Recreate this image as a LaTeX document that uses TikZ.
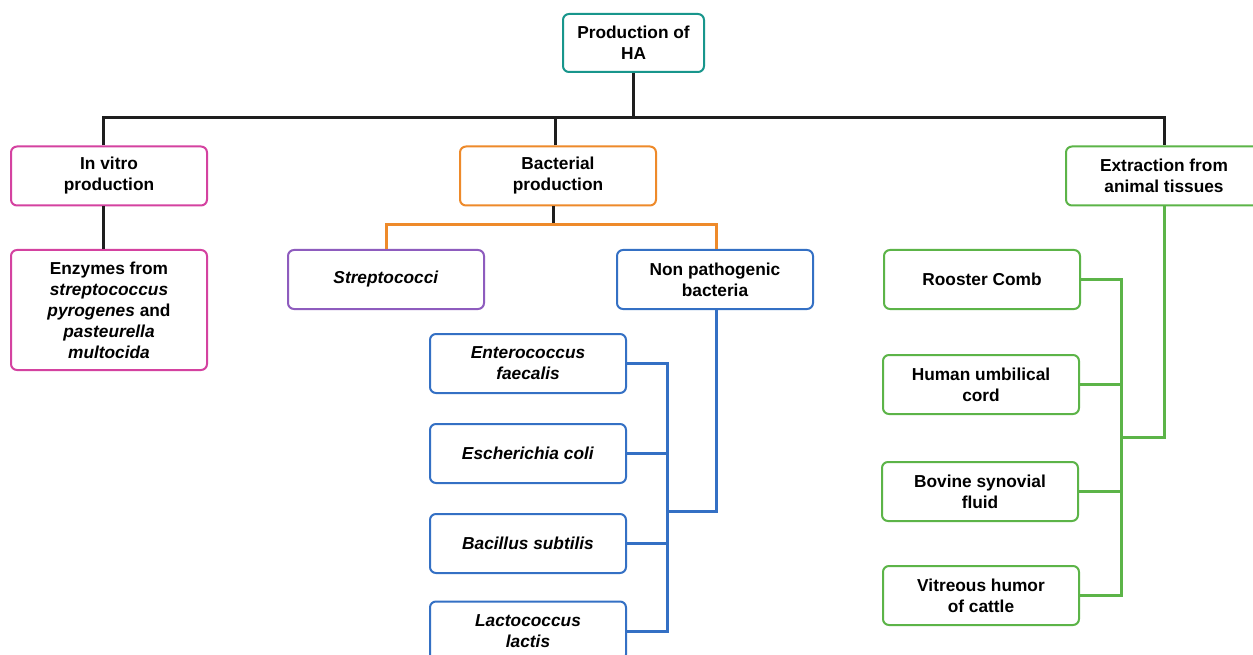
\documentclass[tikz,border=0pt]{standalone}
\usepackage{fontspec}
\setmainfont{Liberation Sans}
\definecolor{cteal}{RGB}{24,150,140}
\definecolor{cmag}{RGB}{212,66,160}
\definecolor{corange}{RGB}{238,138,42}
\definecolor{cpurple}{RGB}{142,92,190}
\definecolor{cblue}{RGB}{52,112,196}
\definecolor{cgreen}{RGB}{92,180,72}
\definecolor{cline}{RGB}{30,30,30}
\tikzset{
  box/.style={draw, line width=2pt, rounded corners=6pt, fill=white,
    minimum width=196pt, minimum height=59pt, align=center, inner sep=2pt,
    font=\fontsize{17.3}{21}\selectfont\bfseries, text=black},
  link/.style={line width=3pt},
  blk/.style={link, draw=cline},
}
\begin{document}
\begin{tikzpicture}[x=1pt,y=-1pt]
\clip (0,0) rectangle (1253,655);
\fill[white] (0,0) rectangle (1253,655);
% nodes
\node[box, draw=cteal, minimum width=141pt, minimum height=58pt] (ha) at (633.5,43) {Production of\\HA};
\node[box, draw=cmag] (iv) at (109,176) {In vitro\\production};
\node[box, draw=corange] (bp) at (558,176) {Bacterial\\production};
\node[box, draw=cgreen] (ex) at (1164,176) {Extraction from\\animal tissues};
\node[box, draw=cmag, minimum height=120pt] (enz) at (109,310) {Enzymes from\\\textit{streptococcus}\\\textit{pyrogenes} and\\\textit{pasteurella}\\\textit{multocida}};
\node[box, draw=cpurple] (str) at (386,279.5) {\textit{Streptococci}};
\node[box, draw=cblue] (np) at (715,279.5) {Non pathogenic\\bacteria};
\node[box, draw=cblue] (ent) at (528,363.5) {\textit{Enterococcus}\\\textit{faecalis}};
\node[box, draw=cblue] (eco) at (528,453.5) {\textit{Escherichia coli}};
\node[box, draw=cblue] (bac) at (528,543.5) {\textit{Bacillus subtilis}};
\node[box, draw=cblue] (lac) at (528,631) {\textit{Lactococcus}\\\textit{lactis}};
\node[box, draw=cgreen] (roo) at (982,279.5) {Rooster Comb};
\node[box, draw=cgreen] (hum) at (981,384.5) {Human umbilical\\cord};
\node[box, draw=cgreen] (bov) at (980,491.5) {Bovine synovial\\fluid};
\node[box, draw=cgreen] (vit) at (981,595.5) {Vitreous humor\\of cattle};
% coordinates
\coordinate (bus) at (633.5,118);
\coordinate (obus) at (553,225);
\coordinate (bjoin) at (667,511);
\coordinate (gjoin) at (1121,437);
% top level
\draw[blk] (ha.south) -- (bus);
\draw[blk] ([xshift=-6pt]iv.north) |- (bus) -| (ex.north);
\draw[blk] ([xshift=-3pt]bp.north) -- ([xshift=-3pt]bp.north |- bus);
\draw[blk] ([xshift=-6pt]iv.south) -- ([xshift=-6pt]enz.north);
% bacterial
\draw[blk] ([xshift=-5pt]bp.south) -- (obus);
\draw[link, draw=corange] (str.north) |- (obus) -| ([xshift=1pt]np.north);
\draw[link, draw=cblue] ([xshift=1pt]np.south) |- (bjoin);
\draw[link, draw=cblue] (ent.east) -| (bjoin);
\draw[link, draw=cblue] (lac.east) -| (bjoin);
\draw[link, draw=cblue] (eco.east) -- (eco.east -| bjoin);
\draw[link, draw=cblue] (bac.east) -- (bac.east -| bjoin);
% extraction
\draw[link, draw=cgreen] (ex.south) |- (gjoin);
\draw[link, draw=cgreen] (roo.east) -| (gjoin);
\draw[link, draw=cgreen] (vit.east) -| (gjoin);
\draw[link, draw=cgreen] (hum.east) -- (hum.east -| gjoin);
\draw[link, draw=cgreen] (bov.east) -- (bov.east -| gjoin);
\end{tikzpicture}
\end{document}
